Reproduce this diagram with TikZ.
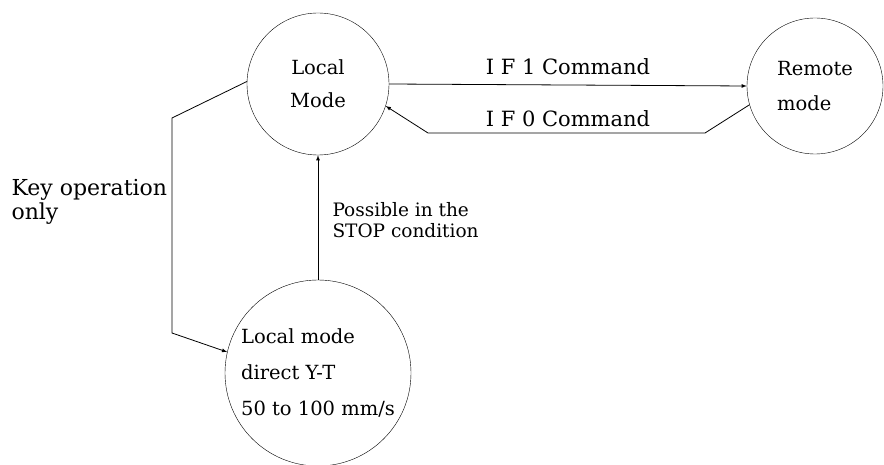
\documentclass[tikz,border=0pt]{standalone}
\usepackage{fontspec}
\setmainfont{DejaVu Serif}
\usetikzlibrary{positioning,
        shapes,
        arrows.meta}

\begin{document}
\begin{tikzpicture}[x=1pt,y=-1pt]
            \useasboundingbox (0,0) rectangle (884,465);
            \node [circle,draw,minimum width=142pt,inner sep=0pt,align=center,font=\fontsize{19.5}{33}\selectfont] (Local) at (318,84) {Local\\Mode};
            \node [circle,draw,minimum width=136pt,inner sep=0pt,align=left,font=\fontsize{19.5}{35}\selectfont] (Remote) at (815,86) {Remote\\mode};
            \node [circle,draw,minimum width=186pt,inner sep=0pt,align=left,font=\fontsize{19.5}{36}\selectfont] (Direct) at (318,373) {Local mode\\direct Y-T\\50 to 100 mm/s};

            \node [anchor=base,font=\fontsize{21}{24}\selectfont] (if1) at (568,75) {I F 1 Command};
            \node [anchor=base,font=\fontsize{21}{24}\selectfont] (if0) at (568,127) {I F 0 Command};
            \node [anchor=base west,align=left,font=\fontsize{22}{24}\selectfont] (key) at (8,220) {Key operation\\only};
            \node [anchor=base west,align=left,font=\fontsize{18.5}{21}\selectfont] (stop) at (329,238) {Possible in the\\STOP condition};

            \coordinate (r1) at (705,133);
            \coordinate (r2) at (428,133);
            \coordinate (k1) at (172,118);
            \coordinate (k2) at (172,333);

            \draw [-latex, line width=0.8pt] (Local.0) -- (Remote.180);
            \draw [-latex, line width=0.8pt] (Remote.196) -- (r1) -- (r2) -- (Local.-18);
            \draw [-latex, line width=0.8pt] (Local.178) -- (k1) -- (k2) -- (Direct.167);
            \draw [-latex, line width=0.8pt] (Direct.north) -- (Local.south);
        \end{tikzpicture}
\end{document}
